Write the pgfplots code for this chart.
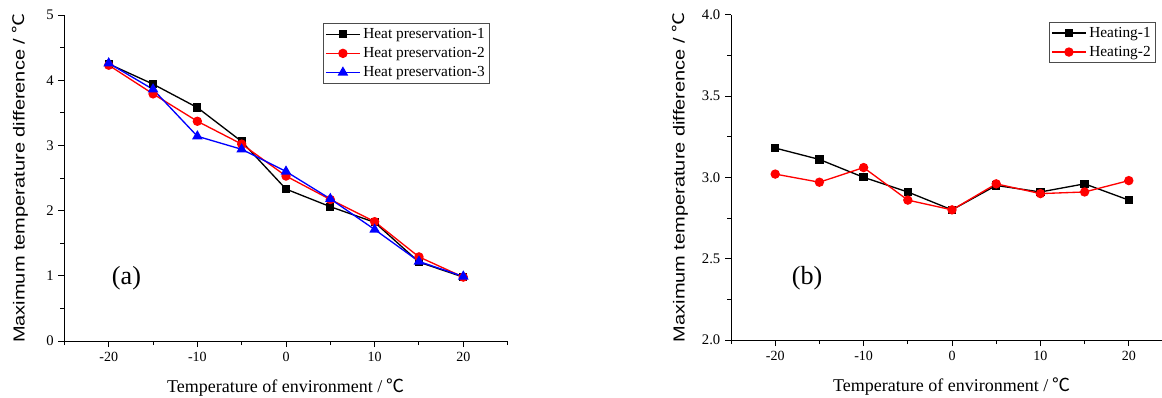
\documentclass[border=0pt]{standalone}
\usepackage{fontspec}
\setmainfont{Liberation Serif}
\newfontfamily\arialfont{Liberation Sans}
\newfontfamily\cjk{Noto Sans CJK SC}
\usepackage{pgfplots}
\pgfplotsset{compat=1.18}
\newcommand{\degC}{{\cjk ℃}}

\pgfplotstableread{
x    a     b     c
-20  4.25  4.23  4.26
-15  3.94  3.79  3.86
-10  3.58  3.37  3.14
-5   3.06  3.02  2.94
0    2.33  2.53  2.60
5    2.06  2.17  2.18
10   1.82  1.83  1.71
15   1.21  1.29  1.22
20   0.98  0.98  0.99
}\tableA

\pgfplotstableread{
x    a     b
-20  3.18  3.02
-15  3.11  2.97
-10  3.00  3.06
-5   2.91  2.86
0    2.80  2.80
5    2.95  2.96
10   2.91  2.90
15   2.96  2.91
20   2.86  2.98
}\tableB

\pgfplotsset{
  mystyle/.style={
    scale only axis,
    clip=false,
    axis lines=left,
    axis line style={-, black, line width=0.7pt},
    tick style={black, line width=0.7pt},
    tick align=outside,
    major tick length=4.5pt,
    minor tick length=3pt,
    xmin=-25, xmax=25,
    xtick={-20,-10,...,20},
    minor xtick={-25,-15,...,25},
    /pgf/number format/assume math mode=true,
    xticklabel style={font=\fontsize{10.5}{12}\selectfont},
    yticklabel style={font=\fontsize{11}{13}\selectfont},
    xlabel={Temperature of environment / \degC},
    xlabel style={font=\fontsize{13.5}{15}\selectfont, at={(axis description cs:0.5,-0.144)}, anchor=center},
    legend cell align=left,
    legend image code/.code={\draw[mark repeat=2,mark phase=2,##1] plot coordinates {(0cm,0cm)(0.45cm,0cm)(0.9cm,0cm)};},
    legend style={draw=black!70, fill=white, line width=0.6pt, font=\fontsize{11.5}{13}\selectfont, inner sep=1.5pt, row sep=1.2pt, anchor=north west},
  },
  s1/.style={black, line width=1pt, mark=square*, mark size=2.6pt, mark options={solid}},
  s2/.style={red, line width=1pt, mark=*, mark size=3pt, mark options={solid}},
  s3/.style={blue, line width=1pt, mark=triangle*, mark size=3.6pt, mark options={solid}},
}

\begin{document}
\begin{tikzpicture}
\useasboundingbox (0,0) rectangle (871.5pt,297.75pt);
\begin{axis}[mystyle,
  at={(48.3pt,42pt)}, anchor=south west,
  width=332.4pt, height=244.5pt,
  ymin=0, ymax=5,
  ytick={0,1,...,5},
  minor ytick={0.5,1.5,...,4.5},
  ylabel={\scalebox{1.25}[1]{\arialfont\fontsize{12}{14}\selectfont Maximum temperature difference / \degC}},
  ylabel style={at={(axis description cs:-0.100,0.5)}, anchor=center},
  legend style={at={(axis description cs:0.583,0.975)}},
]
\addplot[s1] table[x=x, y=a] {\tableA};
\addlegendentry{Heat preservation-1}
\addplot[s2] table[x=x, y=b] {\tableA};
\addlegendentry{Heat preservation-2}
\addplot[s3] table[x=x, y=c] {\tableA};
\addlegendentry{Heat preservation-3}
\node[font=\fontsize{19.6}{22}\selectfont] at (axis cs:-18,0.97) {(a)};
\end{axis}

\begin{axis}[mystyle,
  at={(548.25pt,42.75pt)}, anchor=south west,
  width=331.5pt, height=244pt,
  ymin=2, ymax=4,
  ytick={2,2.5,...,4},
  minor ytick={2.25,2.75,...,3.75},
  yticklabel style={/pgf/number format/.cd, fixed, fixed zerofill, precision=1},
  ylabel={\scalebox{1.25}[1]{\arialfont\fontsize{12}{14}\selectfont Maximum temperature difference / \degC}},
  ylabel style={at={(axis description cs:-0.115,0.5)}, anchor=center},
  legend style={at={(axis description cs:0.719,0.978)}},
]
\addplot[s1] table[x=x, y=a] {\tableB};
\addlegendentry{Heating-1}
\addplot[s2] table[x=x, y=b] {\tableB};
\addlegendentry{Heating-2}
\node[font=\fontsize{19.6}{22}\selectfont] at (axis cs:-16.4,2.38) {(b)};
\end{axis}
\end{tikzpicture}
\end{document}
